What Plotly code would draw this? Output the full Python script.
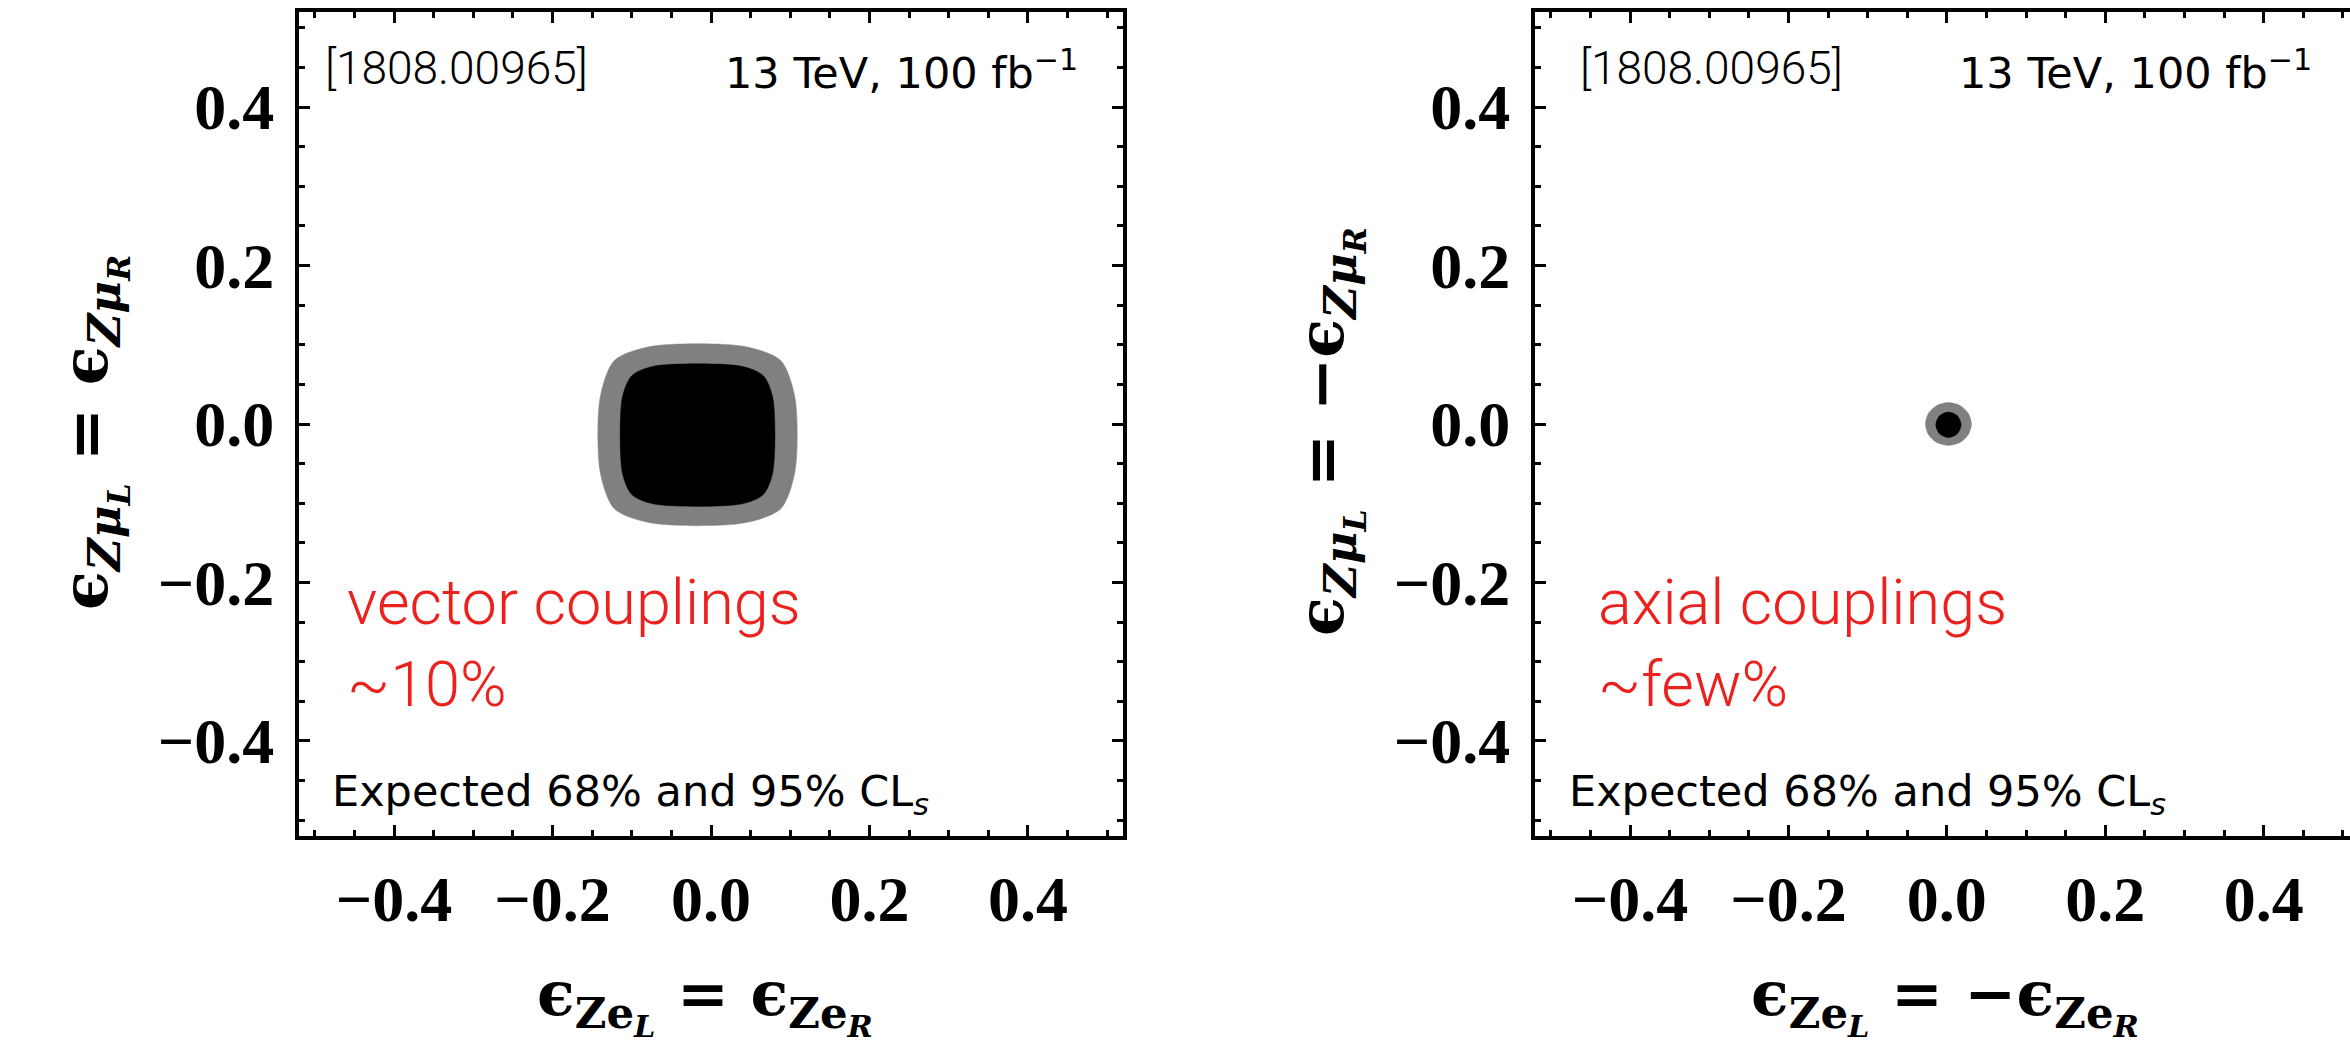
import plotly.graph_objects as go

W, H = 2350, 1051

# Axis ticks (shared by both panels)
tick_vals = [-0.4, -0.2, 0.0, 0.2, 0.4]
tick_text = ["\u22120.4", "\u22120.2", "0.0", "0.2", "0.4"]

# Vector couplings: expected 95% and 68% CLs region boundaries
vec95_x = [-0.075, 0.041, 0.088, 0.106, 0.106, 0.088, 0.041, -0.075, -0.122, -0.140, -0.140, -0.122, -0.075]
vec95_y = [0.098, 0.098, 0.080, 0.033, -0.060, -0.107, -0.125, -0.125, -0.107, -0.060, 0.033, 0.080, 0.098]
vec68_x = [-0.072, 0.038, 0.066, 0.078, 0.078, 0.066, 0.038, -0.072, -0.100, -0.112, -0.112, -0.100, -0.072]
vec68_y = [0.073, 0.073, 0.061, 0.033, -0.061, -0.089, -0.101, -0.101, -0.089, -0.061, 0.033, 0.061, 0.073]

# Axial couplings: expected 95% and 68% CLs region boundaries
ax95_x = [0.031, 0.027, 0.0165, 0.002, -0.0125, -0.0232, -0.027, -0.0232, -0.0125, 0.002, 0.0165, 0.027, 0.031]
ax95_y = [0.0, 0.0135, 0.0234, 0.027, 0.0234, 0.0135, 0.0, -0.0135, -0.0234, -0.027, -0.0234, -0.0135, 0.0]
ax68_x = [0.018, 0.0133, 0.002, -0.0093, -0.014, -0.0093, 0.002, 0.0133, 0.018]
ax68_y = [-0.001, 0.0103, 0.015, 0.0103, -0.001, -0.0123, -0.017, -0.0123, -0.001]

GRAY = "rgb(128,128,128)"
BLACK = "rgb(0,0,0)"
RED = "rgb(236,32,28)"

SERIF = "Liberation Serif"
TITLE_SERIF = "DejaVu Serif"
SANS = "DejaVu Sans"
LIGHT = "Roboto"


def px(x):
    return x / W


def py(y):
    return 1 - y / H


fig = go.Figure()


def region(xs, ys, color, xa, ya):
    fig.add_trace(go.Scatter(
        x=xs, y=ys, mode="lines", fill="toself", fillcolor=color,
        line=dict(color=color, width=0.5, shape="spline", smoothing=0.8),
        xaxis=xa, yaxis=ya, hoverinfo="skip", showlegend=False,
    ))


region(vec95_x, vec95_y, GRAY, "x", "y")
region(vec68_x, vec68_y, BLACK, "x", "y")
region(ax95_x, ax95_y, GRAY, "x2", "y2")
region(ax68_x, ax68_y, BLACK, "x2", "y2")

tickfont = dict(family=SERIF, size=64, color="black", weight="bold")
minor = dict(tickmode="linear", tick0=0, dtick=0.05, ticks="inside",
             ticklen=6, tickwidth=2.5, tickcolor="black")


def axis_style(domain, rng, anchor, mirror, standoff):
    return dict(
        domain=domain, range=rng, anchor=anchor,
        showgrid=False, zeroline=False,
        showline=True, linecolor="black", linewidth=4, mirror=mirror,
        ticks="inside", ticklen=11, tickwidth=3, tickcolor="black",
        tickmode="array", tickvals=tick_vals, ticktext=tick_text,
        tickfont=tickfont, minor=minor, ticklabelstandoff=standoff,
        fixedrange=True,
    )


ydom = [py(836), py(12)]
fig.update_layout(
    width=W, height=H,
    margin=dict(l=0, r=0, t=0, b=0),
    paper_bgcolor="white", plot_bgcolor="white",
    showlegend=False,
    xaxis=axis_style([px(299), px(1123)], [-0.52, 0.52], "y", "ticks", 4),
    yaxis=axis_style(ydom, [-0.52, 0.52], "x", "ticks", 8),
    xaxis2=axis_style([px(1535), 1.0], [-0.52, 0.509], "y2", "ticks", 4),
    yaxis2=axis_style(ydom, [-0.52, 0.52], "x2", False, 8),
)

annotations = []


def note(text, x, y, size, family, color="black", xanchor="left", weight="normal", angle=0):
    annotations.append(dict(
        text=text, x=px(x), y=py(y), xref="paper", yref="paper",
        xanchor=xanchor, yanchor="middle", showarrow=False, textangle=angle,
        align="left",
        font=dict(family=family, size=size, color=color, weight=weight),
    ))


TITLE = 62
x_title_left = "\u03f5<sub><b>Ze</b><sub><i>L</i></sub></sub> = \u03f5<sub><b>Ze</b><sub><i>R</i></sub></sub>"
x_title_right = "\u03f5<sub><b>Ze</b><sub><i>L</i></sub></sub> = \u2212\u03f5<sub><b>Ze</b><sub><i>R</i></sub></sub>"
y_title_left = "\u03f5<sub><i>Z\u03bc</i><sub><i>L</i></sub></sub> = \u03f5<sub><i>Z\u03bc</i><sub><i>R</i></sub></sub>"
y_title_right = "\u03f5<sub><i>Z\u03bc</i><sub><i>L</i></sub></sub> = \u2212\u03f5<sub><i>Z\u03bc</i><sub><i>R</i></sub></sub>"

# Left panel: vector couplings
note(x_title_left, 705, 1000, TITLE, TITLE_SERIF, xanchor="center", weight="bold")
note(y_title_left, 92, 432, 64, TITLE_SERIF, xanchor="center", weight="bold", angle=-90)
note("[1808.00965]", 323, 68, 46, LIGHT, weight=300)
note("13 TeV, 100 fb<sup>\u22121</sup>", 1080, 70, 43, SANS, xanchor="right")
note("Expected 68% and 95% CL<sub><i>s</i></sub>", 330, 794, 43, SANS)
note("vector couplings<br>~10%", 345, 643, 63, LIGHT, color=RED, weight=300)

# Right panel: axial couplings
note(x_title_right, 1945, 1000, TITLE, TITLE_SERIF, xanchor="center", weight="bold")
note(y_title_right, 1328, 432, 64, TITLE_SERIF, xanchor="center", weight="bold", angle=-90)
note("[1808.00965]", 1578, 68, 46, LIGHT, weight=300)
note("13 TeV, 100 fb<sup>\u22121</sup>", 2314, 70, 43, SANS, xanchor="right")
note("Expected 68% and 95% CL<sub><i>s</i></sub>", 1567, 794, 43, SANS)
note("axial couplings<br>~few%", 1596, 643, 63, LIGHT, color=RED, weight=300)

fig.update_layout(annotations=annotations)

fig.write_html("out.html", config={"displayModeBar": False})
